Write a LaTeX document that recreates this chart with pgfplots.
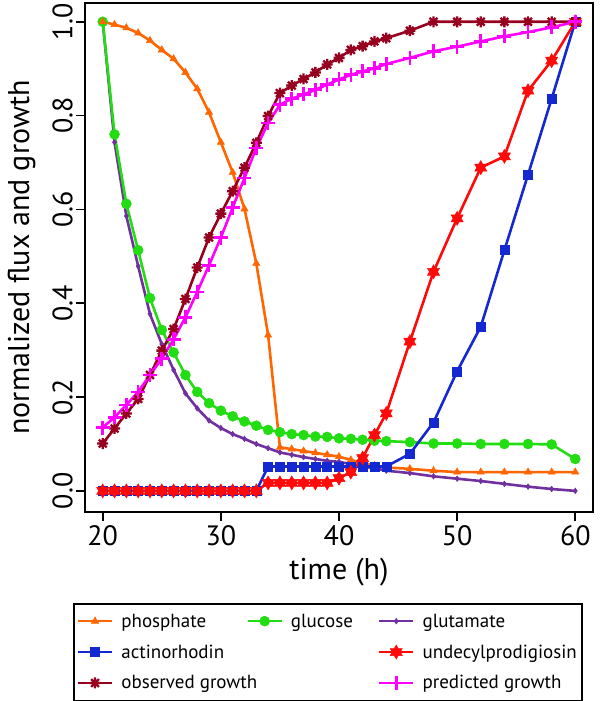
\documentclass[border=0pt]{standalone}
\usepackage{fontspec}
\setmainfont{PT Sans}
\usepackage{pgfplots}
\usepackage{pgfplotstable}
\pgfplotsset{compat=1.18}

\definecolor{phos}{RGB}{255,102,0}
\definecolor{gluc}{RGB}{34,221,17}
\definecolor{glut}{RGB}{112,48,160}
\definecolor{act}{RGB}{20,40,210}
\definecolor{und}{RGB}{255,10,10}
\definecolor{obs}{RGB}{150,0,30}
\definecolor{pred}{RGB}{255,0,255}

% six-pointed star mark
\pgfdeclareplotmark{hexstar}{%
  \pgfpathmoveto{\pgfqpointpolar{90}{\pgfplotmarksize}}%
  \pgfpathlineto{\pgfqpointpolar{210}{\pgfplotmarksize}}%
  \pgfpathlineto{\pgfqpointpolar{330}{\pgfplotmarksize}}%
  \pgfpathclose
  \pgfpathmoveto{\pgfqpointpolar{270}{\pgfplotmarksize}}%
  \pgfpathlineto{\pgfqpointpolar{30}{\pgfplotmarksize}}%
  \pgfpathlineto{\pgfqpointpolar{150}{\pgfplotmarksize}}%
  \pgfpathclose
  \pgfusepathqfillstroke}
% eight-armed asterisk
\pgfdeclareplotmark{ast8}{%
  \pgfpathmoveto{\pgfqpointpolar{0}{\pgfplotmarksize}}\pgfpathlineto{\pgfqpointpolar{180}{\pgfplotmarksize}}%
  \pgfpathmoveto{\pgfqpointpolar{45}{\pgfplotmarksize}}\pgfpathlineto{\pgfqpointpolar{225}{\pgfplotmarksize}}%
  \pgfpathmoveto{\pgfqpointpolar{90}{\pgfplotmarksize}}\pgfpathlineto{\pgfqpointpolar{270}{\pgfplotmarksize}}%
  \pgfpathmoveto{\pgfqpointpolar{135}{\pgfplotmarksize}}\pgfpathlineto{\pgfqpointpolar{315}{\pgfplotmarksize}}%
  \pgfusepathqstroke}

% time (h) and normalized value
\pgfplotstableread{
t v
20 1.000
21 0.994
22 0.987
23 0.976
24 0.960
25 0.940
26 0.921
27 0.892
28 0.857
29 0.807
30 0.743
31 0.679
32 0.601
33 0.485
34 0.332
35 0.093
36 0.089
37 0.085
38 0.081
39 0.077
40 0.073
41 0.066
42 0.059
43 0.054
44 0.050
46 0.047
48 0.043
50 0.040
52 0.040
54 0.040
56 0.040
58 0.040
60 0.040
}\phosphate

\pgfplotstableread{
t v
20 1.000
21 0.760
22 0.612
23 0.513
24 0.411
25 0.343
26 0.295
27 0.247
28 0.211
29 0.187
30 0.171
31 0.159
32 0.148
33 0.139
34 0.130
35 0.125
36 0.121
37 0.119
38 0.116
39 0.115
40 0.112
41 0.111
42 0.109
43 0.107
44 0.106
46 0.104
48 0.101
50 0.101
52 0.100
54 0.100
56 0.100
58 0.099
60 0.068
}\glucose

\pgfplotstableread{
t v
20 1.000
21 0.743
22 0.586
23 0.479
24 0.377
25 0.313
26 0.258
27 0.208
28 0.176
29 0.150
30 0.134
31 0.121
32 0.111
33 0.100
34 0.091
35 0.082
36 0.077
37 0.072
38 0.068
39 0.064
40 0.062
41 0.057
42 0.052
43 0.048
44 0.043
46 0.038
48 0.031
50 0.026
52 0.021
54 0.015
56 0.009
58 0.004
60 0.000
}\glutamate

\pgfplotstableread{
t v
20 0
21 0
22 0
23 0
24 0
25 0
26 0
27 0
28 0
29 0
30 0
31 0
32 0
33 0
34 0.052
35 0.052
36 0.052
37 0.052
38 0.052
39 0.052
40 0.052
41 0.052
42 0.052
43 0.052
44 0.052
46 0.079
48 0.146
50 0.255
52 0.350
54 0.513
56 0.674
58 0.836
60 1.000
}\actino

\pgfplotstableread{
t v
20 0
21 0
22 0
23 0
24 0
25 0
26 0
27 0
28 0
29 0
30 0
31 0
32 0
33 0
34 0.017
35 0.017
36 0.017
37 0.017
38 0.017
39 0.017
40 0.027
41 0.040
42 0.070
43 0.119
44 0.165
46 0.318
48 0.467
50 0.581
52 0.689
54 0.713
56 0.853
58 0.917
60 1.000
}\undecyl

\pgfplotstableread{
t v
20 0.101
21 0.133
22 0.165
23 0.196
24 0.247
25 0.299
26 0.345
27 0.409
28 0.476
29 0.540
30 0.591
31 0.639
32 0.689
33 0.742
34 0.799
35 0.848
36 0.864
37 0.878
38 0.892
39 0.909
40 0.923
41 0.940
42 0.948
43 0.958
44 0.965
46 0.981
48 1.000
50 1.000
52 1.000
54 1.000
56 1.000
58 1.000
60 1.000
}\observed

\pgfplotstableread{
t v
20 0.135
21 0.157
22 0.183
23 0.211
24 0.247
25 0.282
26 0.323
27 0.370
28 0.424
29 0.481
30 0.540
31 0.604
32 0.667
33 0.731
34 0.784
35 0.823
36 0.836
37 0.845
38 0.855
39 0.866
40 0.877
41 0.887
42 0.894
43 0.901
44 0.910
46 0.923
48 0.937
50 0.947
52 0.958
54 0.969
56 0.978
58 0.988
60 1.000
}\predicted

\pgfplotsset{
  legend image code/.code={\draw[mark repeat=2, mark phase=2, #1] plot coordinates {(0pt,0pt) (17pt,0pt) (34pt,0pt)};},
  phosS/.style={color=phos, line width=2.6pt, mark=triangle*, mark size=4.2pt, mark options={solid, line width=0.5pt}},
  glucS/.style={color=gluc, line width=2.6pt, mark=*, mark size=5pt, mark options={solid, line width=0.5pt}},
  glutS/.style={color=glut, line width=2.6pt, mark=diamond*, mark size=2.8pt, mark options={solid, line width=0.5pt}},
  actS/.style={color=act, line width=2.6pt, mark=square*, mark size=4.5pt, mark options={solid, line width=0.5pt}},
  undS/.style={color=und, line width=2.6pt, mark=hexstar, mark size=7pt, mark options={solid, line width=0.5pt}},
  obsS/.style={color=obs, line width=2.6pt, mark=ast8, mark size=5.5pt, mark options={solid, line width=2.3pt}},
  predS/.style={color=pred, line width=2.6pt, mark=+, mark size=7pt, mark options={solid, line width=2.6pt}},
}
\newcommand{\lt}[2]{\makebox[#1][l]{#2}}

\begin{document}
\begin{tikzpicture}
\useasboundingbox (0,0) rectangle (600pt,701pt);
\begin{axis}[
    at={(85pt,189pt)}, anchor=south west,
    scale only axis,
    width=508pt, height=509pt,
    xmin=18.5, xmax=61.5,
    ymin=-0.045, ymax=1.04,
    xtick={20,30,40,50,60},
    ytick={0,0.2,0.4,0.6,0.8,1.0},
    tick pos=left,
    tick align=outside,
    major tick length=9pt,
    tick style={black, line width=1.6pt},
    axis line style={black, line width=2.6pt},
    /pgf/number format/assume math mode=true,
    yticklabel style={/pgf/number format/.cd, fixed, fixed zerofill, precision=1, /tikz/.cd, rotate=90, anchor=south, inner sep=3pt},
    tick label style={font=\fontsize{28}{30}\selectfont},
    xticklabel style={inner sep=4pt},
    xlabel={time (h)},
    ylabel={normalized flux and growth},
    label style={font=\fontsize{30}{34}\selectfont},
    xlabel style={at={(axis description cs:0.5,-0.118)}, anchor=center},
    ylabel style={at={(axis description cs:-0.125,0.5)}, anchor=center},
    clip=false,
    legend columns=3,
    legend style={at={(axis description cs:-0.0236,-0.1788)}, anchor=north west,
      draw=black, line width=1.5pt, font=\fontsize{19}{22}\selectfont,
      inner xsep=3pt, inner ysep=8pt, row sep=12pt,
      cells={anchor=west},
      /tikz/every odd column/.append style={column sep=6pt},
      /tikz/every even column/.append style={column sep=0pt}},
]
\addplot[glutS, forget plot] table[x=t, y=v] {\glutamate};
\addplot[glucS, forget plot] table[x=t, y=v] {\glucose};
\addplot[phosS, forget plot] table[x=t, y=v] {\phosphate};
\addplot[actS, forget plot] table[x=t, y=v] {\actino};
\addplot[undS, forget plot] table[x=t, y=v] {\undecyl};
\addplot[obsS, forget plot] table[x=t, y=v] {\observed};
\addplot[predS, forget plot] table[x=t, y=v] {\predicted};

\addlegendimage{phosS}\addlegendentry{\lt{123pt}{phosphate}}
\addlegendimage{glucS}\addlegendentry{\lt{85pt}{glucose}}
\addlegendimage{glutS}\addlegendentry{glutamate}
\addlegendimage{actS}\addlegendentry{\lt{123pt}{actinorhodin}}
\addlegendimage{empty legend}\addlegendentry{\lt{85pt}{}}
\addlegendimage{undS}\addlegendentry{undecylprodigiosin}
\addlegendimage{obsS}\addlegendentry{\lt{123pt}{observed growth}}
\addlegendimage{empty legend}\addlegendentry{\lt{85pt}{}}
\addlegendimage{predS}\addlegendentry{predicted growth}
\end{axis}
\end{tikzpicture}
\end{document}
